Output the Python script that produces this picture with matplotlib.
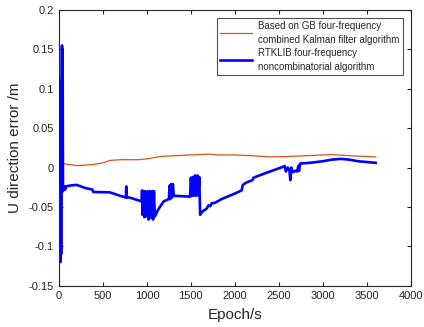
import matplotlib
matplotlib.use("Agg")
import matplotlib.pyplot as plt

plt.rcParams['font.family'] = ['Liberation Sans', 'DejaVu Sans']

# GB four-frequency combined Kalman filter solution (epoch, U error in m)
gb_epoch = [0, 50, 100, 200, 300, 400, 500, 580, 700, 900, 1000, 1150, 1300,
            1500, 1700, 1800, 2000, 2200, 2400, 2600, 2800, 3000, 3100, 3300, 3600]
gb_err = [0.006, 0.005, 0.004, 0.0025, 0.003, 0.004, 0.006, 0.009, 0.010, 0.010,
          0.011, 0.014, 0.015, 0.016, 0.017, 0.016, 0.016, 0.015, 0.0135, 0.014,
          0.015, 0.016, 0.0165, 0.015, 0.0135]

# RTKLIB four-frequency noncombinatorial solution (epoch, U error in m)
rtk_epoch = [2, 5, 8, 12, 16, 20, 25, 30, 35, 38, 42, 46, 50, 60, 70, 80, 120,
             200, 300, 380, 390, 580, 700, 760, 765, 770, 800, 940, 945, 950,
             960, 970, 980, 990, 1000, 1010, 1020, 1035, 1045, 1060, 1070, 1080,
             1090, 1120, 1130, 1160, 1190, 1250, 1258, 1265, 1275, 1285, 1295,
             1305, 1340, 1490, 1500, 1510, 1520, 1530, 1545, 1560, 1575, 1585,
             1595, 1605, 1630, 1680, 1700, 1720, 1740, 1770, 1850, 2000, 2076,
             2090, 2130, 2200, 2210, 2350, 2450, 2550, 2565, 2580, 2600, 2620,
             2630, 2640, 2660, 2690, 2710, 2720, 2730, 2740, 2850, 3000, 3100,
             3200, 3300, 3400, 3600]
rtk_err = [0.02, 0.11, -0.09, 0.10, -0.12, 0.11, -0.11, 0.08, 0.155, -0.02,
           0.15, -0.03, -0.026, -0.024, -0.028, -0.024, -0.023, -0.022, -0.026,
           -0.028, -0.031, -0.0315, -0.036, -0.038, -0.024, -0.038, -0.038,
           -0.043, -0.029, -0.060, -0.030, -0.063, -0.030, -0.062, -0.045,
           -0.030, -0.066, -0.030, -0.064, -0.030, -0.066, -0.030, -0.062,
           -0.055, -0.053, -0.048, -0.043, -0.040, -0.023, -0.040, -0.021,
           -0.038, -0.021, -0.036, -0.036, -0.037, -0.013, -0.036, -0.012,
           -0.036, -0.010, -0.036, -0.010, -0.035, -0.012, -0.060, -0.056,
           -0.052, -0.048, -0.049, -0.045, -0.045, -0.040, -0.033, -0.029,
           -0.022, -0.019, -0.016, -0.013, -0.007, -0.003, 0.001, 0.002,
           -0.005, 0.000, -0.004, -0.016, 0.000, -0.006, -0.004, -0.005, 0.002,
           -0.004, 0.005, 0.006, 0.008, 0.010, 0.011, 0.010, 0.008, 0.006]

x_ticks = [0, 500, 1000, 1500, 2000, 2500, 3000, 3500, 4000]
y_ticks = [-0.15, -0.1, -0.05, 0, 0.05, 0.1, 0.15, 0.2]
y_tick_labels = ['-0.15', '-0.1', '-0.05', '0', '0.05', '0.1', '0.15', '0.2']

fig = plt.figure(figsize=(4.24, 3.27), dpi=100)
ax = fig.add_axes([0.139, 0.1263, 0.830, 0.8431])

ax.plot(gb_epoch, gb_err, color='#D95319', lw=0.9,
        label='Based on GB four-frequency\ncombined Kalman filter algorithm')
ax.plot(rtk_epoch, rtk_err, color='#0000FF', lw=1.9,
        label='RTKLIB four-frequency\nnoncombinatorial algorithm')

ax.set_xlim(0, 4000)
ax.set_ylim(-0.15, 0.2)
ax.set_xticks(x_ticks)
ax.set_yticks(y_ticks)
ax.set_yticklabels(y_tick_labels)
ax.tick_params(direction='in', top=True, right=True, length=3, width=0.8,
               labelsize=8, labelcolor='#262626', color='#262626')
for s in ax.spines.values():
    s.set_linewidth(0.8)
    s.set_color('#262626')

ax.set_xlabel('Epoch/s', fontsize=11, color='#262626', labelpad=5)
ax.set_ylabel('U direction error /m', fontsize=11, color='#262626', labelpad=5)

leg = ax.legend(loc='upper right', fontsize=7.0, frameon=True, fancybox=False,
                edgecolor='#262626', handlelength=3.3, handletextpad=0.6,
                borderpad=0.35, labelspacing=0.35, borderaxespad=0.8)
leg.get_frame().set_linewidth(0.8)
for t in leg.get_texts():
    t.set_linespacing(1.45)
    t.set_color('#262626')
# centre each handle on its two-line label
for row in leg._legend_handle_box.get_children():
    for hp in row.get_children():
        hp.align = 'center'

fig.savefig('out.png', dpi=100)
